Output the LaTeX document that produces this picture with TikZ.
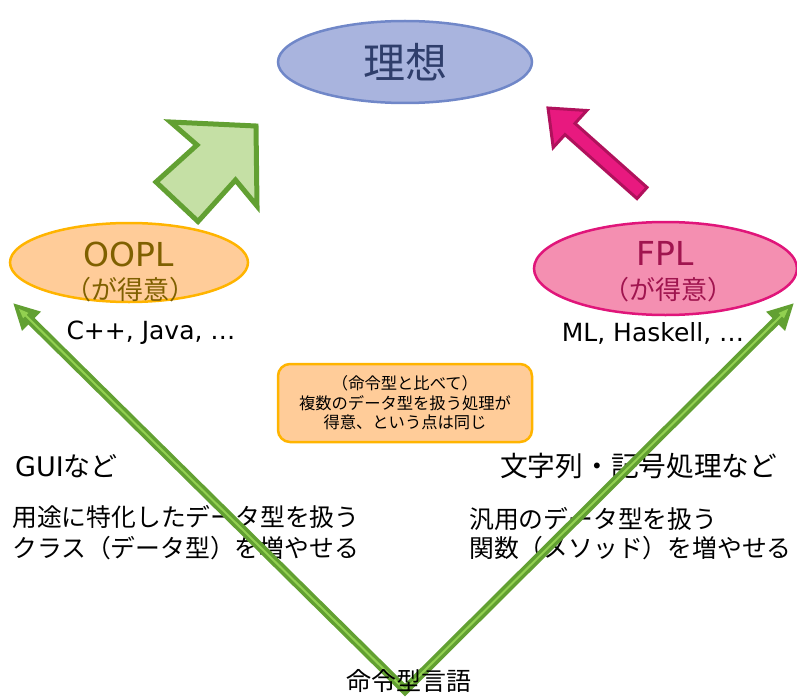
\documentclass[tikz,border=0pt]{standalone}
\usepackage{fontspec}
\setmainfont{Noto Sans CJK JP}
\newfontfamily\lat{DejaVu Sans}
\usetikzlibrary{shapes.geometric,arrows.meta,calc}
\definecolor{idealfill}{HTML}{A9B4DE}
\definecolor{idealdraw}{HTML}{7087C8}
\definecolor{idealtext}{HTML}{2F3E6B}
\definecolor{oofill}{HTML}{FFCC99}
\definecolor{oodraw}{HTML}{FFB400}
\definecolor{ootext}{HTML}{7F6000}
\definecolor{fpfill}{HTML}{F48FB1}
\definecolor{fpdraw}{HTML}{E0157A}
\definecolor{fptext}{HTML}{A0154F}
\definecolor{pinkfill}{HTML}{E8197F}
\definecolor{pinkdraw}{HTML}{B0115C}
\definecolor{gfill}{HTML}{C5E0A5}
\definecolor{gdraw}{HTML}{62A032}
\definecolor{glight}{HTML}{92D050}
\tikzset{
  oval/.style={ellipse, inner sep=0pt, line width=2.5pt},
  fs/.style={font=\fontsize{#1}{#1}\selectfont},
  txt/.style={inner sep=0pt},
  vline/.style={draw=gdraw, line width=9pt, line join=miter,
    {Triangle[length=26pt,width=25pt]}-{Triangle[length=26pt,width=25pt]}},
  vinner/.style={draw=glight, line width=2pt, line join=miter,
    {Triangle[length=10pt,width=7pt]}-{Triangle[length=10pt,width=7pt]}},
  notebox/.style={draw=oodraw, fill=oofill, line width=2.5pt, rounded corners=12pt,
    minimum width=254pt, minimum height=78pt, align=center, inner sep=0pt},
}
\begin{document}
\begin{tikzpicture}[x=1pt,y=-1pt]
\useasboundingbox (0,0) rectangle (797,698);

% top ideal
\node[oval, fill=idealfill, draw=idealdraw, minimum width=254pt, minimum height=82pt,
      text=idealtext, fs=42] (ideal) at (405,62) {理想};

% OOPL
\node[oval, fill=oofill, draw=oodraw, minimum width=238pt, minimum height=79pt] (oop) at (129,262.5) {};
\node[txt, fs=33, text=ootext] (ooptitle) at (129,254) {\lat OOPL};
\node[txt, fs=26, text=ootext] (oopsub) at (130,290) {（が得意）};

% FPL
\node[oval, fill=fpfill, draw=fpdraw, minimum width=263pt, minimum height=93pt] (fp) at (665.5,268.5) {};
\node[txt, fs=33, text=fptext] (fptitle) at (665,253.5) {\lat FPL};
\node[txt, fs=26, text=fptext] (fpsub) at (668,290) {（が得意）};

\node[txt, fs=25] (ooplangs) at (151,333) {\lat C++, Java, …};
\node[txt, fs=25] (fplangs) at (653,333) {\lat ML, Haskell, …};

% green block arrow
\draw[draw=gdraw, fill=gfill, line width=5pt, line join=miter]
  (170.5,122) -- (256,126) -- (257,206) -- (235.5,180) -- (198,221.5) -- (156,182) -- (197,145) -- cycle;

% pink arrow
\draw[draw=pinkdraw, fill=pinkfill, line width=3pt, line join=miter]
  (548,108) -- (586.8,110.5) -- (575.0,123.4) -- (647.0,187.4) -- (637.0,198.6)
  -- (565.0,134.6) -- (553.2,147.5) -- cycle;

% note box
\node[notebox, font=\fontsize{16.3}{19.5}\selectfont] (note) at (405,403)
  {（命令型と比べて）\\複数のデータ型を扱う処理が\\得意、という点は同じ};

% side texts
\node[txt, anchor=west, fs=27] (guinote) at (15,466) {{\lat GUI}など};
\node[txt, anchor=west, align=left, font=\fontsize{24.8}{31}\selectfont] (leftdesc) at (12,532.5)
  {用途に特化したデータ型を扱う\\クラス（データ型）を増やせる};
\node[txt, anchor=west, fs=27.7] (strnote) at (500,466) {文字列・記号処理など};
\node[txt, anchor=west, align=left, font=\fontsize{24.8}{29}\selectfont] (rightdesc) at (469,533.5)
  {汎用のデータ型を扱う\\関数（メソッド）を増やせる};

% V connectors
\coordinate (vbot) at (405,690);
\coordinate (vl) at (13,303);
\coordinate (vr) at (794,303);
\draw[vline] (vl) -- (vbot) -- (vr);
\draw[vinner] ($(vl)!8pt!(vbot)$) -- (vbot) -- ($(vr)!8pt!(vbot)$);

\node[txt, fs=25] (base) at (409,681) {命令型言語};
\end{tikzpicture}
\end{document}
